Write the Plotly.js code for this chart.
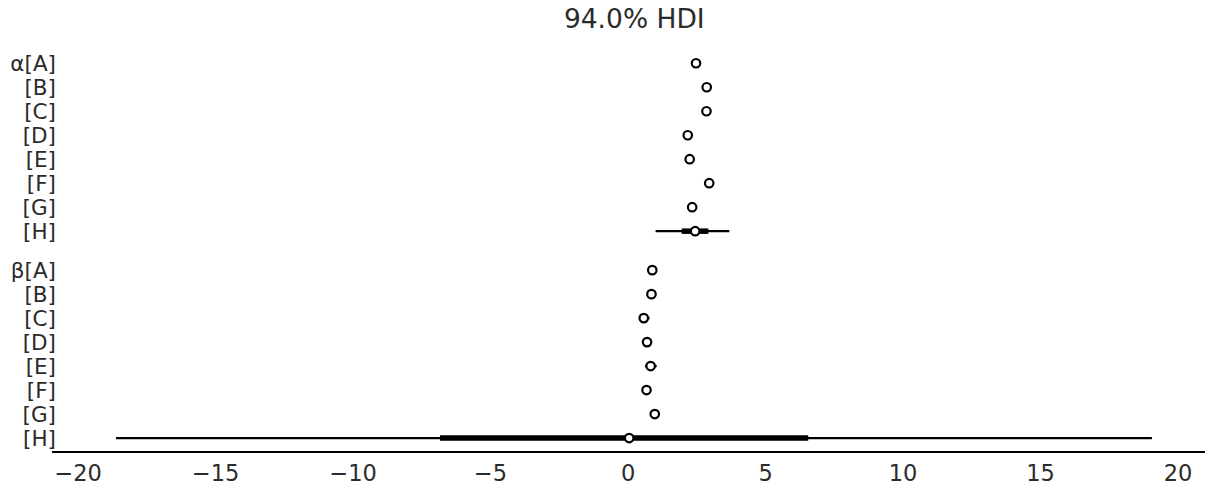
<!DOCTYPE html>
<html><head><meta charset="utf-8">
<script src="https://cdn.plot.ly/plotly-3.0.1.min.js"></script>
<style>html,body{margin:0;padding:0;background:#fff;}#chart{width:1209px;height:496px;}</style>
</head><body><div id="chart"></div>
<script>
// Row labels (top to bottom)
const groups = ["α", "β"];
const levels = ["A", "B", "C", "D", "E", "F", "G", "H"];
// Posterior means
const alphaMean = [2.47, 2.86, 2.85, 2.17, 2.24, 2.95, 2.33, 2.44];
const betaMean  = [0.88, 0.85, 0.57, 0.69, 0.82, 0.67, 0.97, 0.04];
// 94% HDI (thin line)
const alphaHdiLo = [2.32, 2.72, 2.71, 2.03, 2.10, 2.80, 2.19, 1.00];
const alphaHdiHi = [2.62, 3.00, 2.99, 2.31, 2.38, 3.10, 2.47, 3.68];
const betaHdiLo  = [0.76, 0.70, 0.39, 0.58, 0.62, 0.55, 0.85, -18.62];
const betaHdiHi  = [1.00, 1.02, 0.78, 0.80, 1.04, 0.79, 1.09, 19.05];
// 50% interval (thick line)
const alphaIqrLo = [2.40, 2.79, 2.78, 2.10, 2.17, 2.88, 2.26, 1.95];
const alphaIqrHi = [2.54, 2.93, 2.92, 2.24, 2.31, 3.02, 2.40, 2.92];
const betaIqrLo  = [0.82, 0.78, 0.48, 0.64, 0.72, 0.61, 0.91, -6.84];
const betaIqrHi  = [0.94, 0.93, 0.67, 0.74, 0.93, 0.73, 1.03, 6.55];

// layout positions computed from row index
const gap = 39/24;
function yPos(g, i) {
  const n = levels.length;
  if (g === 1) return (n - 1 - i);
  return (n - 1) + gap + (n - 1 - i);
}
const series = [
  {mean: alphaMean, lo: alphaHdiLo, hi: alphaHdiHi, qlo: alphaIqrLo, qhi: alphaIqrHi},
  {mean: betaMean, lo: betaHdiLo, hi: betaHdiHi, qlo: betaIqrLo, qhi: betaIqrHi}
];
const thinX = [], thinY = [], thickX = [], thickY = [], ptX = [], ptY = [];
const tickvals = [], ticktext = [];
series.forEach((s, g) => {
  levels.forEach((lv, i) => {
    const y = yPos(g, i);
    thinX.push(s.lo[i], s.hi[i], null); thinY.push(y, y, null);
    thickX.push(s.qlo[i], s.qhi[i], null); thickY.push(y, y, null);
    ptX.push(s.mean[i]); ptY.push(y);
    tickvals.push(y);
    ticktext.push((i === 0 ? groups[g] : "") + "[" + lv + "]");
  });
});
const topY = yPos(0, 0);
const traces = [
  {x: thinX, y: thinY, mode: "lines", line: {color: "#000", width: 2.3}, hoverinfo: "skip", showlegend: false},
  {x: thickX, y: thickY, mode: "lines", line: {color: "#000", width: 5.5}, hoverinfo: "skip", showlegend: false},
  {x: ptX, y: ptY, mode: "markers", marker: {color: "#fff", size: 8.5, line: {color: "#000", width: 2.2}}, showlegend: false}
];
const layout = {
  width: 1209, height: 496,
  margin: {l: 52, r: 4, t: 52, b: 45},
  paper_bgcolor: "#fff", plot_bgcolor: "#fff",
  font: {family: "DejaVu Sans", color: "#2b2b2b"},
  title: {text: "94.0% HDI", font: {size: 26.5, color: "#2b2b2b", family: "DejaVu Sans"}, x: 0.505, xref: "paper", y: 0.963, yref: "container", yanchor: "middle"},
  xaxis: {range: [-20.95, 20.98], tickvals: [-20, -15, -10, -5, 0, 5, 10, 15, 20],
    ticktext: ["−20", "−15", "−10", "−5", "0", "5", "10", "15", "20"],
    showgrid: false, zeroline: false, showline: true, linecolor: "#000", linewidth: 1.6,
    ticks: "", tickfont: {size: 22.5, color: "#2b2b2b"}, ticklabelstandoff: 1},
  yaxis: {range: [-0.54, topY + 0.47], tickvals: tickvals, ticktext: ticktext,
    showgrid: false, zeroline: false, showline: false, ticks: "", automargin: false,
    tickfont: {size: 21.5, color: "#2b2b2b"}, ticklabelstandoff: -5}
};
Plotly.newPlot("chart", traces, layout, {displayModeBar: false, staticPlot: true});
</script></body></html>
